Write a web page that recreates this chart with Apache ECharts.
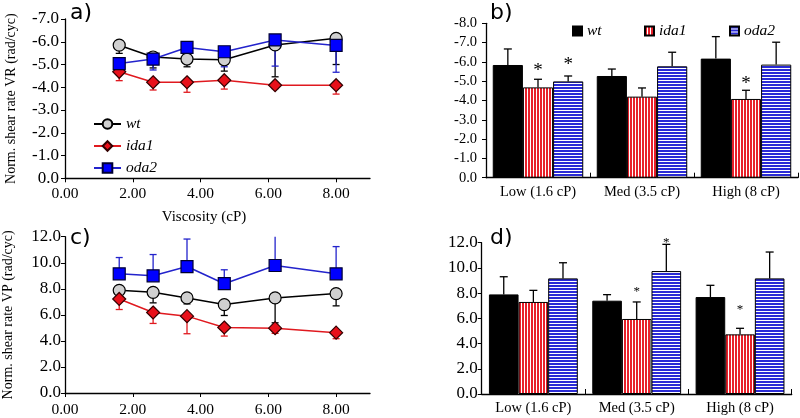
<!DOCTYPE html>
<html><head><meta charset="utf-8">
<script src="https://cdn.jsdelivr.net/npm/echarts@6/dist/echarts.min.js"></script>
<style>html,body{margin:0;padding:0;background:#fff}#c{width:800px;height:418px}</style>
</head><body><div id="c"></div>
<script>
// ---------- data ----------
const viscosity = [1.6, 2.6, 3.6, 4.7, 6.2, 8.0];
// panel a: normalized shear rate VR (negative values), SD toward zero
const vrWt    = [-5.85, -5.33, -5.24, -5.21, -5.86, -6.15];
const vrWtSd  = [0.36, 0.48, 0.34, 0.50, 1.40, 1.15];
const vrIda1  = [-4.68, -4.22, -4.22, -4.31, -4.09, -4.09];
const vrIda1Sd= [0.39, 0.34, 0.44, 0.39, 0.15, 0.39];
const vrOda2  = [-5.04, -5.24, -5.75, -5.56, -6.08, -5.84];
const vrOda2Sd= [0.20, 0.48, 0.50, 0.66, 1.15, 1.18];
// panel c: normalized shear rate VP
const vpWt    = [7.88, 7.73, 7.30, 6.79, 7.30, 7.63];
const vpWtSd  = [0.50, 0.81, 0.46, 0.84, 1.91, 0.94];
const vpIda1  = [7.22, 6.18, 5.90, 5.03, 4.98, 4.63];
const vpIda1Sd= [0.81, 0.84, 1.35, 0.66, 0.40, 0.46];
const vpOda2  = [9.15, 9.00, 9.71, 8.39, 9.79, 9.15];
const vpOda2Sd= [1.25, 1.63, 2.11, 1.07, 2.40, 2.09];
// bar panels
const categories = ['Low (1.6 cP)', 'Med (3.5 cP)', 'High (8 cP)'];
const strains = ['wt', 'ida1', 'oda2'];
const bWt = [-5.84, -5.27, -6.17],  bWtSd = [0.83, 0.36, 1.14];
const bIda1 = [-4.68, -4.20, -4.08], bIda1Sd = [0.42, 0.45, 0.45];
const bOda2 = [-4.99, -5.77, -5.86], bOda2Sd = [0.28, 0.73, 1.16];
const dWt = [7.90, 7.40, 7.69],  dWtSd = [1.40, 0.48, 0.93];
const dIda1 = [7.30, 5.95, 4.73], dIda1Sd = [0.92, 1.35, 0.48];
const dOda2 = [9.17, 9.75, 9.17], dOda2Sd = [1.24, 2.12, 2.09];
// significance marks: [category, strain index, y value]
const starsB = [[0, 1, -5.75], [0, 2, -6.06], [2, 1, -5.11]];
const starsD = [[1, 1, 8.38], [1, 2, 12.27], [2, 1, 6.92]];
const panelLabels = ['a)', 'b)', 'c)', 'd)'];

// ---------- styles ----------
const SERIF = 'Liberation Serif';
function stripe(color, vertical) {
  const c = document.createElement('canvas');
  if (vertical) { c.width = 3; c.height = 1; } else { c.width = 1; c.height = 3; }
  const g = c.getContext('2d');
  g.fillStyle = '#fff'; g.fillRect(0, 0, c.width, c.height);
  g.fillStyle = color;
  if (vertical) g.fillRect(0, 0, 2, 1); else g.fillRect(0, 0, 1, 2);
  return c;
}
const redPat = { image: stripe('#e8202a', true), repeat: 'repeat' };
const bluePat = { image: stripe('#2b2bd6', false), repeat: 'repeat' };
const barFill = ['#000', redPat, bluePat];
const lineCol = ['#000', '#e0191f', '#2323cc'];
const markerStyle = [
  { symbol: 'circle', size: 12, color: '#d0d0d0', border: '#000' },
  { symbol: 'diamond', size: 13, color: '#e8101a', border: '#300' },
  { symbol: 'rect', size: 12, color: '#0000ff', border: '#000033' }
];
const axisLineStyle = { show: true, lineStyle: { color: '#000', width: 1.3 } };
const lbl = (fs) => ({ color: '#000', fontFamily: SERIF, fontSize: fs });

function errXY(color, capW) {
  return function (params, api) {
    const x = api.value(0), y = api.value(1), e = api.value(2);
    const p = api.coord([x, y]);
    let q = api.coord([x, e]);
    const cs = params.coordSys;
    let cap = true;
    if (q[1] < cs.y) { q = [q[0], cs.y]; cap = false; }
    const ch = [{ type: 'line', shape: { x1: p[0], y1: p[1], x2: q[0], y2: q[1] }, style: { stroke: color, lineWidth: 1.3 } }];
    if (cap) ch.push({ type: 'line', shape: { x1: q[0] - capW / 2, y1: q[1], x2: q[0] + capW / 2, y2: q[1] }, style: { stroke: color, lineWidth: 1.3 } });
    return { type: 'group', children: ch };
  };
}
function errBar(k, gap, capW) {
  return function (params, api) {
    const ci = api.value(0), v = api.value(1), e = api.value(2);
    const band = api.size([1, 0])[0];
    const bw = band * (1 - gap) / 3;
    const p = api.coord([ci, v]), q = api.coord([ci, e]);
    const x = p[0] + (k - 1) * bw;
    return { type: 'group', children: [
      { type: 'line', shape: { x1: x, y1: p[1], x2: x, y2: q[1] }, style: { stroke: '#000', lineWidth: 1.3 } },
      { type: 'line', shape: { x1: x - capW / 2, y1: q[1], x2: x + capW / 2, y2: q[1] }, style: { stroke: '#000', lineWidth: 1.3 } }
    ] };
  };
}
function starItem(gap, fs) {
  return function (params, api) {
    const ci = api.value(0), k = api.value(1), y = api.value(2);
    const band = api.size([1, 0])[0];
    const bw = band * (1 - gap) / 3;
    const p = api.coord([ci, y]);
    return { type: 'text', x: p[0] + (k - 1) * bw, y: p[1] + fs * 0.25,
      style: { text: '*', font: fs + 'px "Liberation Serif"', fill: '#000', align: 'center', verticalAlign: 'middle' } };
  };
}

const series = [];
function addLinePanel(idx, vals, sds, dirs) {
  vals.forEach((v, s) => {
    series.push({
      type: 'custom', xAxisIndex: idx, yAxisIndex: idx, z: 2, silent: true,
      renderItem: errXY(lineCol[s], 7),
      data: viscosity.map((x, i) => [x, v[i], v[i] + dirs[s] * sds[s][i]])
    });
  });
  vals.forEach((v, s) => {
    const m = markerStyle[s];
    series.push({
      name: strains[s], type: 'line', xAxisIndex: idx, yAxisIndex: idx, z: 3 + s,
      symbol: m.symbol, symbolSize: m.size, showAllSymbol: true,
      lineStyle: { color: lineCol[s], width: 1.5 },
      itemStyle: { color: m.color, borderColor: m.border, borderWidth: 1.2 },
      emphasis: { disabled: true },
      data: viscosity.map((x, i) => [x, v[i]])
    });
  });
}
addLinePanel(0, [vrWt, vrIda1, vrOda2], [vrWtSd, vrIda1Sd, vrOda2Sd], [1, 1, 1]);
addLinePanel(2, [vpWt, vpIda1, vpOda2], [vpWtSd, vpIda1Sd, vpOda2Sd], [-1, -1, 1]);

function addBarPanel(idx, vals, sds, dir, gap, stars, starFs) {
  vals.forEach((v, s) => {
    series.push({
      name: strains[s] + ' bars', type: 'bar', xAxisIndex: idx, yAxisIndex: idx,
      barGap: '0%', barCategoryGap: (gap * 100) + '%',
      itemStyle: { color: barFill[s], borderColor: '#000', borderWidth: 1 },
      emphasis: { disabled: true },
      data: v
    });
  });
  vals.forEach((v, s) => {
    series.push({
      type: 'custom', xAxisIndex: idx, yAxisIndex: idx, z: 4, silent: true,
      renderItem: errBar(s, gap, 8),
      data: v.map((val, i) => [i, val, val + dir * sds[s][i]])
    });
  });
  series.push({
    type: 'custom', xAxisIndex: idx, yAxisIndex: idx, z: 5, silent: true,
    renderItem: starItem(gap, starFs), data: stars
  });
}
addBarPanel(1, [bWt, bIda1, bOda2], [bWtSd, bIda1Sd, bOda2Sd], -1, 0.13, starsB, 19);
addBarPanel(3, [dWt, dIda1, dOda2], [dWtSd, dIda1Sd, dOda2Sd], 1, 0.14, starsD, 13);

const fmt1 = v => Number(v).toFixed(1);
function valX(gridIndex, withName, margin) {
  return {
    type: 'value', gridIndex, min: 0, max: 9, interval: 2,
    axisLine: axisLineStyle, splitLine: { show: false },
    axisTick: { show: true, inside: false, length: 4, lineStyle: { color: '#000' } },
    axisLabel: Object.assign({ margin, showMaxLabel: false, formatter: v => Number(v).toFixed(2) }, lbl(15.5)),
    name: withName ? 'Viscosity (cP)' : '', nameLocation: 'middle', nameGap: 31,
    nameTextStyle: { color: '#000', fontFamily: SERIF, fontSize: 15, padding: [0, 27, 0, 0] }
  };
}
function catX(gridIndex) {
  return {
    type: 'category', gridIndex, data: categories,
    axisLine: axisLineStyle, splitLine: { show: false },
    axisTick: { show: true, inside: true, length: 5, alignWithLabel: false, interval: 0, lineStyle: { color: '#000' } },
    axisLabel: Object.assign({ margin: 7, interval: 0 }, lbl(14.5))
  };
}
function valY(gridIndex, min, max, interval, inverse, name, nameGap, margin, fs) {
  return {
    type: 'value', gridIndex, min, max, interval, inverse,
    axisLine: axisLineStyle, splitLine: { show: false },
    axisTick: { show: true, inside: false, length: 4, lineStyle: { color: '#000' } },
    axisLabel: Object.assign({ margin, formatter: fmt1 }, lbl(fs)),
    name, nameLocation: 'middle', nameGap, nameRotate: 90,
    nameTextStyle: { color: '#000', fontFamily: SERIF, fontSize: 14 }
  };
}

const letterPos = [[70, 2], [490, 2], [70, 227], [490, 227]];
const option = {
  animation: false,
  backgroundColor: '#fff',
  grid: [
    { left: 65, top: 19, width: 305, height: 159.3 },
    { left: 486, top: 23.3, width: 312, height: 154.4 },
    { left: 63.3, top: 236.7, width: 306.7, height: 157.3 },
    { left: 481.7, top: 242.7, width: 310, height: 151.3 }
  ],
  xAxis: [valX(0, true, 8), catX(1), valX(2, false, 9), catX(3)],
  yAxis: [
    valY(0, -7, 0, 1, true, 'Norm. shear rate VR (rad/cyc)', 47, 6, 17),
    valY(1, -8, 0, 1, true, '', 0, 9, 14.5),
    valY(2, 0, 12, 2, false, 'Norm. shear rate VP (rad/cyc)', 50, 4, 17),
    valY(3, 0, 12, 2, false, '', 0, 4, 17)
  ],
  legend: [
    { data: strains, orient: 'vertical', left: 88, top: 111, itemWidth: 27, itemHeight: 12, itemGap: 6,
      selectedMode: false,
      textStyle: { color: '#000', fontFamily: SERIF, fontSize: 15.5, fontStyle: 'italic' } }
  ].concat(strains.map((s, i) => ({
    data: [s + ' bars'], left: [567, 639, 724][i], top: 18, icon: 'rect', itemWidth: 9, itemHeight: 9,
    selectedMode: false, formatter: n => n.split(' ')[0],
    textStyle: { color: '#000', fontFamily: SERIF, fontSize: 15.5, fontStyle: 'italic' }
  }))),
  graphic: panelLabels.map((t, i) => ({
    type: 'text', left: letterPos[i][0], top: letterPos[i][1],
    style: { text: t, font: '22px "DejaVu Sans"', fill: '#000' }
  })),
  series
};
const chart = echarts.init(document.getElementById('c'), null, { renderer: 'canvas' });
chart.setOption(option);
</script>
</body></html>
